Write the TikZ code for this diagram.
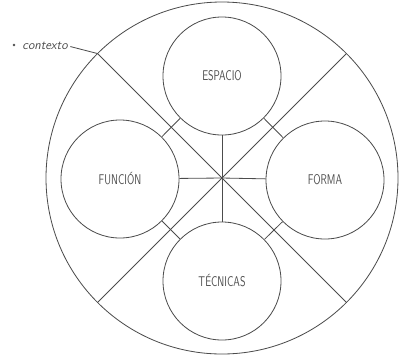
\documentclass[tikz,border=0pt]{standalone}
\usepackage{tikz}
\usepackage{graphicx}

\tikzset{
    ring/.style={draw, circle, minimum size=3.54cm, inner sep=0pt,
        font=\sffamily\fontsize{12}{12}\selectfont},
}
\newcommand{\narrow}[1]{\scalebox{0.72}[1]{#1}}

\begin{document}
\begin{tikzpicture}[x=0.03cm, y=-0.03cm, line width=0.7pt, color=black!70]

    \useasboundingbox (0,0) rectangle (402,356);

    % Centre and outer circle
    \coordinate (c) at (222,178);
    \draw (c) circle (176);

    % Inner circles
    \node[ring] (esp) at (222,76)  {\narrow{ESPACIO}};
    \node[ring] (fun) at (120,179) {\narrow{FUNCIÓN}};
    \node[ring] (for) at (325,180) {\narrow{FORMA}};
    \node[ring] (tec) at (222,281) {\narrow{TÉCNICAS}};

    % Spokes
    \foreach \n in {esp,fun,for,tec}
        \draw (c) -- (\n);

    % Diagonals to the outer circle
    \foreach \a in {45,135,225,315}
        \coordinate (d\a) at ([shift={(\a:176)}]c);
    \foreach \a in {45,135,225,315}
        \draw (c) -- (d\a);

    % Short links between neighbouring circles
    \draw (esp) -- (fun);
    \draw (esp) -- (for);
    \draw (tec) -- (fun);
    \draw (tec) -- (for);

    % Context label
    \fill (14,45) circle (1.3);
    \node[anchor=base west, inner sep=0pt, font=\sffamily\itshape\fontsize{11}{11}\selectfont]
        (ctx) at (22,49) {contexto};
    \draw ([xshift=2pt,yshift=-1pt]ctx.east) -- (d225);

\end{tikzpicture}
\end{document}
